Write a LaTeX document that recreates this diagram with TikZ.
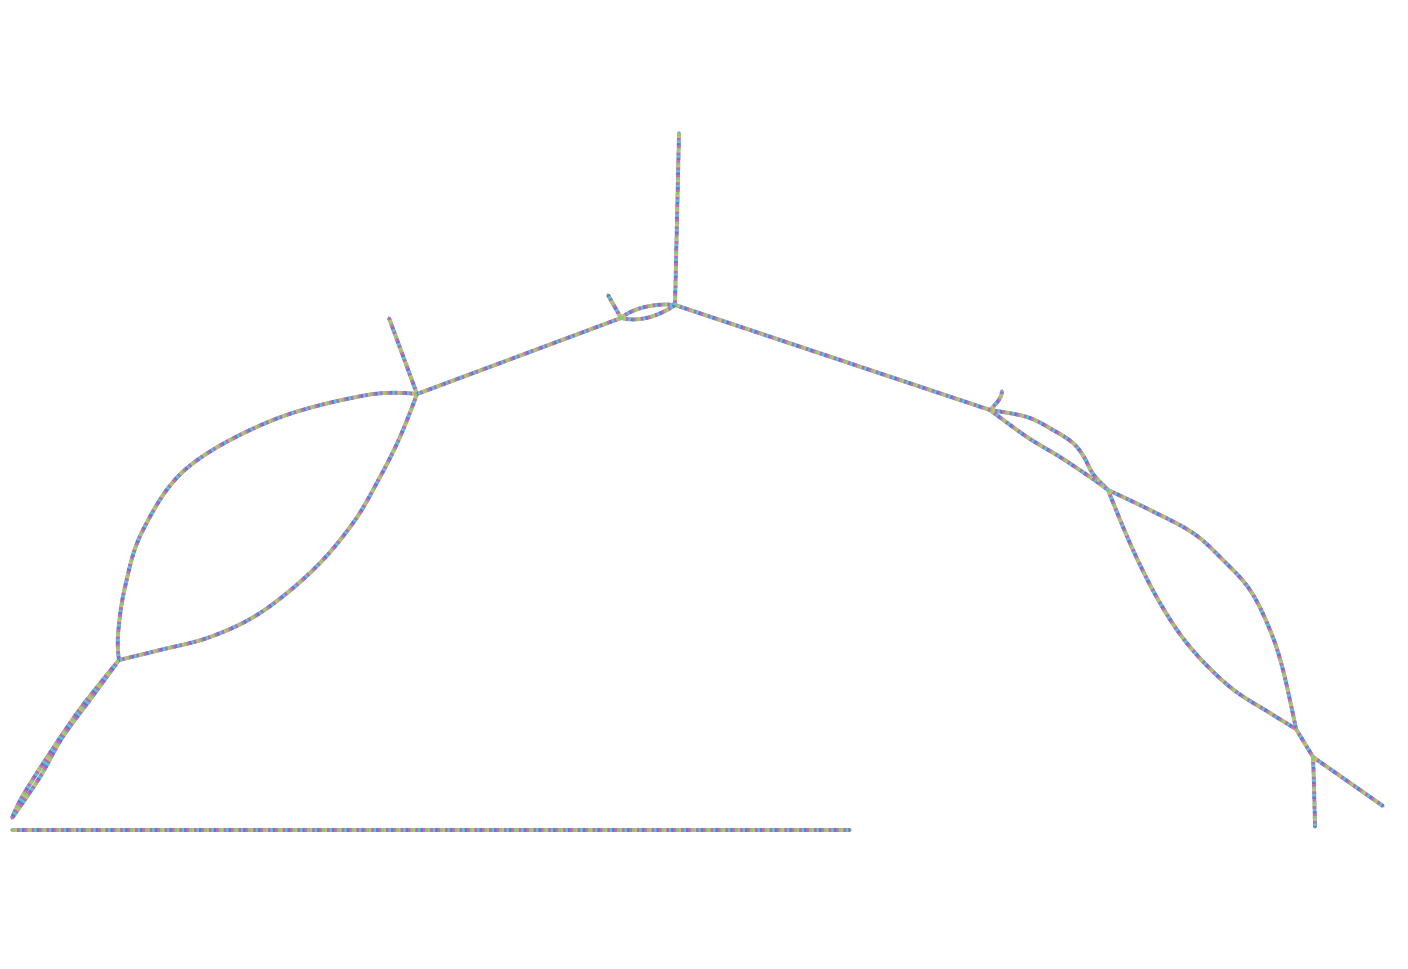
\documentclass[tikz,border=0pt]{standalone}
\usepackage{xcolor}
\usepackage{tikz}
\usetikzlibrary{positioning}

\definecolor{edgebase}{RGB}{150,145,175}
\definecolor{spkgreen}{RGB}{130,205,120}
\definecolor{spkpink}{RGB}{210,105,175}
\definecolor{spkblue}{RGB}{110,115,215}
\definecolor{spkteal}{RGB}{95,200,190}
\definecolor{spkolive}{RGB}{195,190,105}
\definecolor{spkviolet}{RGB}{170,110,210}

% all contigs of the graph as one path
\newcommand{\contigs}{
  (top) -- (hubA)
  (hubB) .. controls (634,307) and (658,303) .. (hubA)
  (hubB) .. controls (642,323) and (662,314) .. (hubA)
  (hubB) -- (stubB)
  (hubB) -- (hubC)
  (hubC) -- (stubC)
  plot[smooth, tension=0.6] coordinates {(hubC) (367,395) (273,420) (187,468) (143,530) (125,587) (118,635) (hubD)}
  plot[smooth, tension=0.6] coordinates {(hubC) (400,437) (380,477) (353,523) (313,570) (260,613) (210,637) (160,650) (hubD)}
  plot[smooth, tension=0.6] coordinates {(hubD) (80,709) (46,759) (22,797) (endL)}
  plot[smooth, tension=0.6] coordinates {(hubD) (92,697) (62,738) (40,777) (endL)}
  (hubA) -- (hubE)
  (hubE) .. controls (998,402) and (1002,397) .. (stubE)
  plot[smooth, tension=0.6] coordinates {(hubE) (1027,417) (1053,430) (1073,443) (1084,457) (1093,474) (hubF)}
  plot[smooth, tension=0.6] coordinates {(hubE) (1027,437) (1060,457) (1093,479) (hubF)}
  plot[smooth, tension=0.6] coordinates {(hubF) (1150,510) (1193,533) (1223,560) (1250,590) (1270,630) (1283,670) (hubG)}
  plot[smooth, tension=0.6] coordinates {(hubF) (1133,550) (1160,603) (1190,647) (1230,687) (1270,713) (hubG)}
  (hubG) -- (hubH)
  (hubH) -- (endR)
  (hubH) .. controls (1314,785) .. (endS)
  (barL) -- (barR)
}

\begin{document}
\begin{tikzpicture}[
    x=0.02cm, y=-0.02cm,
    edge/.style={line width=2.1pt, line cap=round, draw=edgebase},
    speck/.style={line width=2.1pt, dash pattern=on 1.4pt off 7pt}
]
\useasboundingbox (0,0) rectangle (1408,968);

% junctions
\coordinate (top) at (679,133);
\coordinate (hubA) at (675,305);
\coordinate (hubB) at (621,318);
\coordinate (stubB) at (608,295);
\coordinate (hubC) at (417,394);
\coordinate (stubC) at (389,318);
\coordinate (hubD) at (119,660);
\coordinate (endL) at (12,818);
\coordinate (hubE) at (990,410);
\coordinate (stubE) at (1002,391);
\coordinate (hubF) at (1108,490);
\coordinate (hubG) at (1296,729);
\coordinate (hubH) at (1313,757);
\coordinate (endR) at (1383,806);
\coordinate (endS) at (1315,827);
\coordinate (barL) at (12,830);
\coordinate (barR) at (850,830);

\draw[edge] \contigs;
\foreach \col/\ph in {spkgreen/0, spkpink/1.4, spkblue/2.8, spkteal/4.2, spkviolet/5.6, spkolive/7}
  \draw[speck, draw=\col, dash phase=\ph pt] \contigs;
\end{tikzpicture}
\end{document}
